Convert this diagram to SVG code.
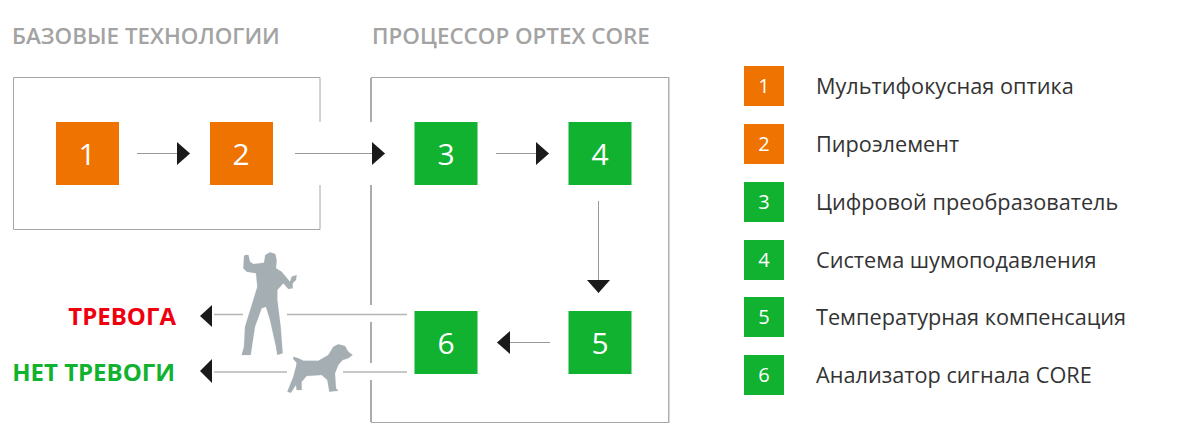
<svg xmlns="http://www.w3.org/2000/svg" width="1184" height="445" viewBox="0 0 1184 445">
<defs>
<marker id="a" markerUnits="userSpaceOnUse" markerWidth="14" markerHeight="24" refX="13" refY="11.500" orient="auto"><path d="M0 0L13 11.500L0 23Z" fill="#1a1a1a"/></marker>
</defs>
<style>
text{font-family:"Open Sans","Noto Sans",sans-serif}
.o{fill:#ef7300}.g{fill:#10b22f}
.n{fill:#fff;font-size:30px;font-weight:500;text-anchor:middle}
.s{fill:#fff;font-size:20px;text-anchor:middle}
.l{fill:#333;font-size:21.700px}
.h{fill:#a3a3a3;font-size:22.400px;font-weight:600}
.b{fill:none;stroke:#a6a6a6;stroke-width:1}
.d{fill:none;stroke:#595959;stroke-width:1}
.c{fill:none;stroke:#999;stroke-width:1}
.t{fill:none;stroke:#b5b5b5;stroke-width:1.500}
.sil{fill:#a5aeb3;stroke:#a5aeb3;stroke-width:.5;stroke-linejoin:round}
.ah{fill:#1a1a1a}
</style>
<rect width="1184" height="445" fill="#fff"/>
<text class="h" x="12" y="44">БАЗОВЫЕ ТЕХНОЛОГИИ</text>
<text class="h" x="372" y="44">ПРОЦЕССОР OPTEX CORE</text>
<path class="b" d="M320 122V77.500H13.500V229.500H320V185"/>
<path class="b" d="M371 77.500H668.500M668.500 422.500H371"/>
<path d="M668.750 77V423" fill="none" stroke="#b0b0b0" stroke-width="1.500"/>
<path class="d" d="M371 122V78M371 305V185M371 363V322M371 422V380"/>
<g id="connectors">
<path class="c" marker-end="url(#a)" d="M137 153.500H190"/>
<path class="c" marker-end="url(#a)" d="M295 153.500H385"/>
<path class="c" marker-end="url(#a)" d="M496 153.500H549"/>
<path class="c" marker-end="url(#a)" d="M598.500 201V293"/>
<path class="c" marker-end="url(#a)" d="M550 342.500H497"/>
<path class="t" d="M214 314.500H243M287 314.500H407M214 372H287M343 372H407"/>
<path class="ah" d="M200 316L212 305V327Z"/>
<path class="ah" d="M200 371L212 359V383Z"/>
</g>
<g id="human"><path class="sil" transform="translate(190 240) scale(.3333)" d="M165 45L175 45L180 65L190 72L222 68L226 45L240 37L256 42L260 62L258 85L275 95L300 125L305 110L320 105L318 120L308 130L308 145L295 147L280 130L262 150L262 180L272 260L278 340L262 345L258 320L240 240L228 200L215 205L195 260L182 345L155 345L162 320L165 260L190 180L202 140L198 100L170 95L160 85L162 50Z"/></g>
<g id="dog"><path class="sil" transform="translate(190 240) scale(.3333)" d="M310 350L325 355L340 362L385 362L415 345L430 320L445 313L465 318L475 335L488 345L475 355L458 360L445 375L435 400L438 445L445 452L418 455L412 420L395 405L350 408L335 425L335 450L320 450L318 435L303 458L292 455L310 410L318 380L320 368L310 358Z"/></g>
<g id="n1"><rect class="o" x="56" y="122" width="63" height="63"/><text class="n" x="87" y="165">1</text></g>
<g id="n2"><rect class="o" x="210" y="122" width="63" height="63"/><text class="n" x="241" y="165">2</text></g>
<g id="n3"><rect class="g" x="414.500" y="122" width="63" height="63"/><text class="n" x="446" y="165">3</text></g>
<g id="n4"><rect class="g" x="568.500" y="122" width="63" height="63"/><text class="n" x="600" y="165">4</text></g>
<g id="n5"><rect class="g" x="568.500" y="311" width="63" height="63"/><text class="n" x="600" y="354">5</text></g>
<g id="n6"><rect class="g" x="414.500" y="311" width="63" height="63"/><text class="n" x="446" y="354">6</text></g>
<text x="176" y="325" text-anchor="end" font-size="24" font-weight="700" fill="#f0000f">ТРЕВОГА</text>
<text x="175" y="381" text-anchor="end" font-size="24" font-weight="700" fill="#10b22f">НЕТ ТРЕВОГИ</text>
<g id="legend1"><rect class="o" x="744" y="66" width="40" height="40"/><text class="s" x="764" y="93">1</text><text class="l" x="816" y="94">Мультифокусная оптика</text></g>
<g id="legend2"><rect class="o" x="744" y="124" width="40" height="40"/><text class="s" x="764" y="151">2</text><text class="l" x="816" y="152">Пироэлемент</text></g>
<g id="legend3"><rect class="g" x="744" y="182" width="40" height="40"/><text class="s" x="764" y="209">3</text><text class="l" x="816" y="210">Цифровой преобразователь</text></g>
<g id="legend4"><rect class="g" x="744" y="240" width="40" height="40"/><text class="s" x="764" y="267">4</text><text class="l" x="816" y="268">Система шумоподавления</text></g>
<g id="legend5"><rect class="g" x="744" y="297" width="40" height="40"/><text class="s" x="764" y="324">5</text><text class="l" x="816" y="325">Температурная компенсация</text></g>
<g id="legend6"><rect class="g" x="744" y="355" width="40" height="40"/><text class="s" x="764" y="382">6</text><text class="l" x="816" y="383">Анализатор сигнала CORE</text></g>
</svg>
